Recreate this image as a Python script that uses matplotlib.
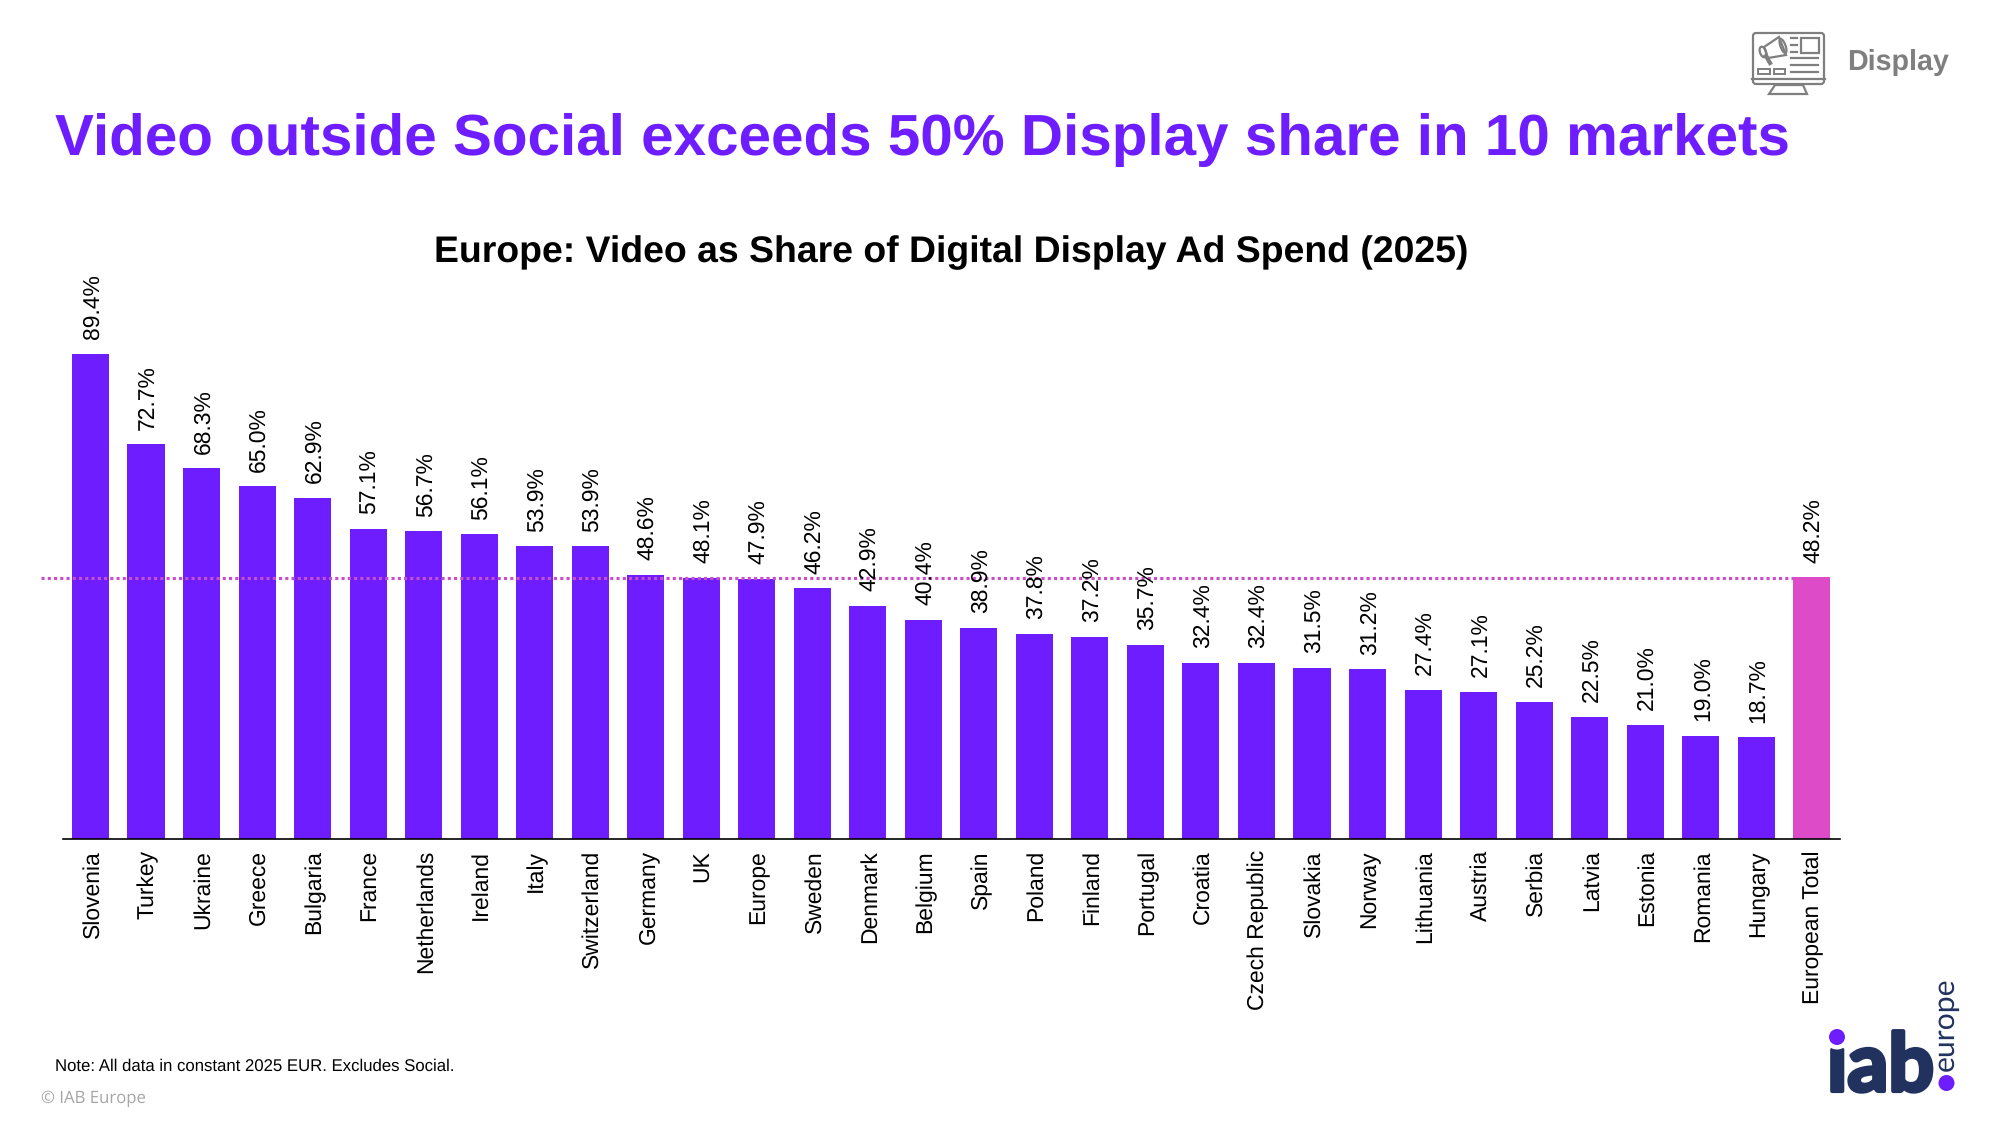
import matplotlib
matplotlib.use('Agg')
import matplotlib.pyplot as plt
from matplotlib.patches import Rectangle, FancyBboxPatch, Circle, Polygon, Ellipse
from matplotlib.transforms import ScaledTranslation
import matplotlib.patheffects as pe

plt.rcParams['font.family'] = ['Liberation Sans', 'DejaVu Sans']
plt.rcParams['text.hinting'] = 'none'

#Data
countries = ['Slovenia', 'Turkey', 'Ukraine', 'Greece', 'Bulgaria', 'France', 'Netherlands', 'Ireland',
             'Italy', 'Switzerland', 'Germany', 'UK', 'Europe', 'Sweden', 'Denmark', 'Belgium', 'Spain',
             'Poland', 'Finland', 'Portugal', 'Croatia', 'Czech Republic', 'Slovakia', 'Norway', 'Lithuania',
             'Austria', 'Serbia', 'Latvia', 'Estonia', 'Romania', 'Hungary', 'European Total']
video_share = [89.4, 72.7, 68.3, 65.0, 62.9, 57.1, 56.7, 56.1, 53.9, 53.9, 48.6, 48.1, 47.9, 46.2, 42.9, 40.4,
               38.9, 37.8, 37.2, 35.7, 32.4, 32.4, 31.5, 31.2, 27.4, 27.1, 25.2, 22.5, 21.0, 19.0, 18.7, 48.2]
line_level = 48.0

PURPLE = '#6D1DFF'
PINK = '#DD4BC9'
DOTS = '#C94FC9'
GREY = '#7F7F7F'
NAVY = '#22325F'

fig = plt.figure(figsize=(20, 11.25), dpi=100)

#Overlay in pixel coordinates for the slide furniture
bg = fig.add_axes([0, 0, 1, 1])
bg.set_xlim(0, 2000)
bg.set_ylim(1125, 0)
bg.axis('off')

#Chart axes
left, right, top, bottom = 62.7, 1839.5, 350.5, 838.7
ax = fig.add_axes([left/2000, (1125-bottom)/1125, (right-left)/2000, (bottom-top)/1125])
ax.patch.set_alpha(0)
positions = range(len(countries))
colors = [PURPLE]*(len(countries)-1) + [PINK]
ax.bar(positions, video_share, width=0.667, color=colors, zorder=2)
ax.set_xlim(-0.5, 31.5)
ax.set_ylim(0, 90)
ax.set_yticks([])
ax.set_xticks(list(positions))
ax.set_xticklabels(countries, rotation=90, fontsize=16.5, color='black')
ax.tick_params(axis='x', length=0, pad=8.2)
#nudge the rotated names onto the bar centres
nudge = ScaledTranslation(2/100, 0, fig.dpi_scale_trans)
for lab in ax.get_xticklabels():
    lab.set_transform(lab.get_transform() + nudge)
for s in ['top', 'left', 'right']:
    ax.spines[s].set_visible(False)
ax.spines['bottom'].set_linewidth(1.2)
ax.spines['bottom'].set_color('black')

#Dotted total line, runs past the left end of the axis
line = ax.plot([-0.89, 30.67], [line_level, line_level], color=DOTS, lw=2.25, clip_on=False, zorder=3)[0]
line.set_dashes((1, 1))
line.set_dash_capstyle('butt')

for i, v in enumerate(video_share):
    ax.annotate(f'{v:.1f}%', (i, v), xytext=(1.4, 10.5), textcoords='offset points', rotation=90,
                ha='center', va='bottom', fontsize=16.5, color='black', zorder=4, annotation_clip=False)

#Titles and notes
bg.text(55, 139.5, 'Video outside Social exceeds 50% Display share in 10 markets', fontsize=42,
        fontweight='bold', color=PURPLE, va='center', ha='left')
bg.text(951.5, 252.5, 'Europe: Video as Share of Digital Display Ad Spend (2025)', fontsize=26.95,
        fontweight='bold', color='black', va='center', ha='center')
bg.text(55, 1066.5, 'Note: All data in constant 2025 EUR. Excludes Social.', fontsize=12.1, color='black',
        va='center', ha='left')
bg.text(41, 1099, '© IAB Europe', fontsize=12.1, color='#A6A6A6', family='Open Sans', va='center', ha='left')

#Display icon
bg.add_patch(FancyBboxPatch((1753, 33), 71, 51, boxstyle='round,pad=0,rounding_size=3', fc='none', ec=GREY, lw=1.6))
bg.plot([1752, 1825], [79, 79], color=GREY, lw=1.6)
bg.add_patch(Polygon([[1775, 85], [1769, 94], [1807, 94], [1803, 85]], fc='none', ec=GREY, lw=1.6))
bg.add_patch(Rectangle((1801, 38), 18, 15, fc='none', ec=GREY, lw=1.6))
for y, x0, x1 in [(38, 1791, 1797), (45, 1791, 1797), (52, 1791, 1797), (58, 1791, 1818), (65, 1791, 1818), (72, 1791, 1818)]:
    bg.plot([x0, x1], [y, y], color=GREY, lw=1.6)
bg.add_patch(Rectangle((1758, 69), 12, 5, fc='none', ec=GREY, lw=1.4))
bg.add_patch(Rectangle((1774, 69), 11, 5, fc='none', ec=GREY, lw=1.4))
bg.add_patch(Polygon([[1764, 47], [1779, 37], [1786, 55], [1768, 58]], fc='none', ec=GREY, lw=1.6))
bg.add_patch(Ellipse((1763, 52), 6, 11, angle=-20, fc='none', ec=GREY, lw=1.6))
bg.add_patch(Ellipse((1783, 46), 5, 15, angle=-20, fc='none', ec=GREY, lw=1.6))
bg.plot([1766, 1770], [56, 63], color=GREY, lw=3)
bg.text(1847, 70, 'Display', fontsize=20.6, fontweight='bold', color=GREY, va='baseline', ha='left')

#Logo
bg.text(1827, 1091, 'iab', fontsize=58, family='Lato', fontweight='bold', color=NAVY, va='baseline', ha='left',
        path_effects=[pe.withStroke(linewidth=3, foreground=NAVY)], zorder=4)
bg.add_patch(Circle((1837, 1037), 12.5, fc='white', ec='none', zorder=5))
bg.add_patch(Circle((1837, 1037), 8, fc=PURPLE, ec='none', zorder=6))
bg.add_patch(Circle((1946.5, 1083), 8, fc=PURPLE, ec='none', zorder=6))
bg.text(1954, 1071, 'europe', fontsize=21.7, family='Lato', color=NAVY, rotation=90, va='baseline', ha='left',
        rotation_mode='anchor', zorder=4)

fig.savefig('out.png', dpi=100)
